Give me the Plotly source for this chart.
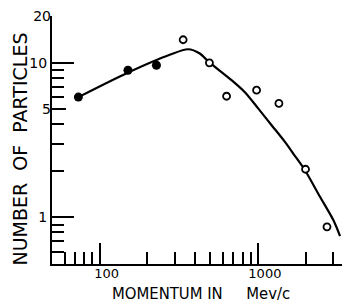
import numpy as np
import plotly.graph_objects as go

# Data (momentum in Mev/c, number of particles)
filled_p = [73.4, 151, 228.5]
filled_n = [6.0, 8.95, 9.65]
open_p = [337, 494, 634, 981, 1358, 2000, 2733]
open_n = [14.1, 10.0, 6.08, 6.65, 5.46, 2.05, 0.87]
curve_p = [73.4, 150.4, 277.3, 362.2, 429.6, 489.6, 681.6, 827.4, 1004, 1221, 1482,
           1673, 1984, 2469, 2997, 3304]
curve_n = [6.0, 8.63, 11.28, 12.24, 11.48, 10.13, 7.72, 6.45, 5.07, 3.95, 3.08,
           2.59, 2.02, 1.36, 0.962, 0.758]

x_major = [100, 1000]
x_major_text = ["100", "1000"]
x_minor = [60, 70, 80, 90, 200, 300, 400, 500, 600, 700, 800, 900, 2000, 3000]
y_major = [1, 10]
y_major_text = ["1", "10"]
y_mid = [5, 20]
y_mid_text = ["5", "20"]
y_minor = [0.6, 0.7, 0.8, 0.9, 2, 3, 4, 6, 7, 8, 9]

x_range = [np.log10(50), np.log10(3820)]
y_range = [np.log10(0.5), np.log10(20.08)]

fig = go.Figure()
fig.add_trace(go.Scatter(x=curve_p, y=curve_n, mode="lines",
                         line=dict(color="black", width=2.2, shape="spline", smoothing=0.8),
                         hoverinfo="skip", showlegend=False))
fig.add_trace(go.Scatter(x=filled_p, y=filled_n, mode="markers",
                         marker=dict(color="black", size=9, symbol="circle"),
                         showlegend=False))
fig.add_trace(go.Scatter(x=open_p, y=open_n, mode="markers", yaxis="y2",
                         marker=dict(color="white", size=7, symbol="circle",
                                     line=dict(color="black", width=1.8)),
                         showlegend=False))

tick_font = dict(family="DejaVu Sans", size=14, color="black")
xtick_font = dict(family="DejaVu Sans", size=13, color="black")

# page body has an 8px default margin, so the figure is sized/offset to compensate
fig.update_layout(
    width=342, height=295,
    margin=dict(l=44, r=0, t=8, b=39, autoexpand=False),
    paper_bgcolor="white", plot_bgcolor="white",
    xaxis=dict(type="log", range=x_range, showgrid=False, zeroline=False, automargin=False,
               showline=True, linecolor="black", linewidth=2,
               ticks="inside", tickvals=x_major, ticktext=x_major_text,
               ticklen=21, tickwidth=1.8, tickcolor="black", tickfont=xtick_font,
               ticklabelshift=7, ticklabelstandoff=-4, ticklabeloverflow="allow",
               minor=dict(tickvals=x_minor, ticks="inside", ticklen=12,
                          tickwidth=1.6, tickcolor="black", showgrid=False)),
    yaxis=dict(type="log", range=y_range, showgrid=False, zeroline=False, automargin=False,
               showline=True, linecolor="black", linewidth=2,
               ticks="inside", tickvals=y_major, ticktext=y_major_text,
               ticklen=22, tickwidth=1.8, tickcolor="black", tickfont=tick_font,
               ticklabeloverflow="allow",
               minor=dict(tickvals=y_minor, ticks="inside", ticklen=12,
                          tickwidth=1.6, tickcolor="black", showgrid=False)),
    yaxis2=dict(type="log", range=y_range, overlaying="y", side="left", automargin=False,
                showgrid=False, zeroline=False, showline=False,
                ticks="inside", tickvals=y_mid, ticktext=y_mid_text,
                ticklen=14, tickwidth=1.8, tickcolor="black", tickfont=tick_font,
                ticklabeloverflow="allow"),
    annotations=[
        dict(text="NUMBER  OF  PARTICLES", xref="paper", yref="paper",
             x=-0.1074, y=0.4657, xanchor="center", yanchor="middle",
             textangle=-90, showarrow=False,
             font=dict(family="DejaVu Sans", size=19, color="black")),
        dict(text="MOMENTUM IN\u00a0\u00a0\u00a0\u00a0 Mev/c", xref="paper", yref="paper",
             x=0.5, y=-0.117, xanchor="center", yanchor="middle",
             showarrow=False,
             font=dict(family="DejaVu Sans Condensed, DejaVu Sans", size=16.5, color="black")),
    ],
)

fig.write_html("out.html")
